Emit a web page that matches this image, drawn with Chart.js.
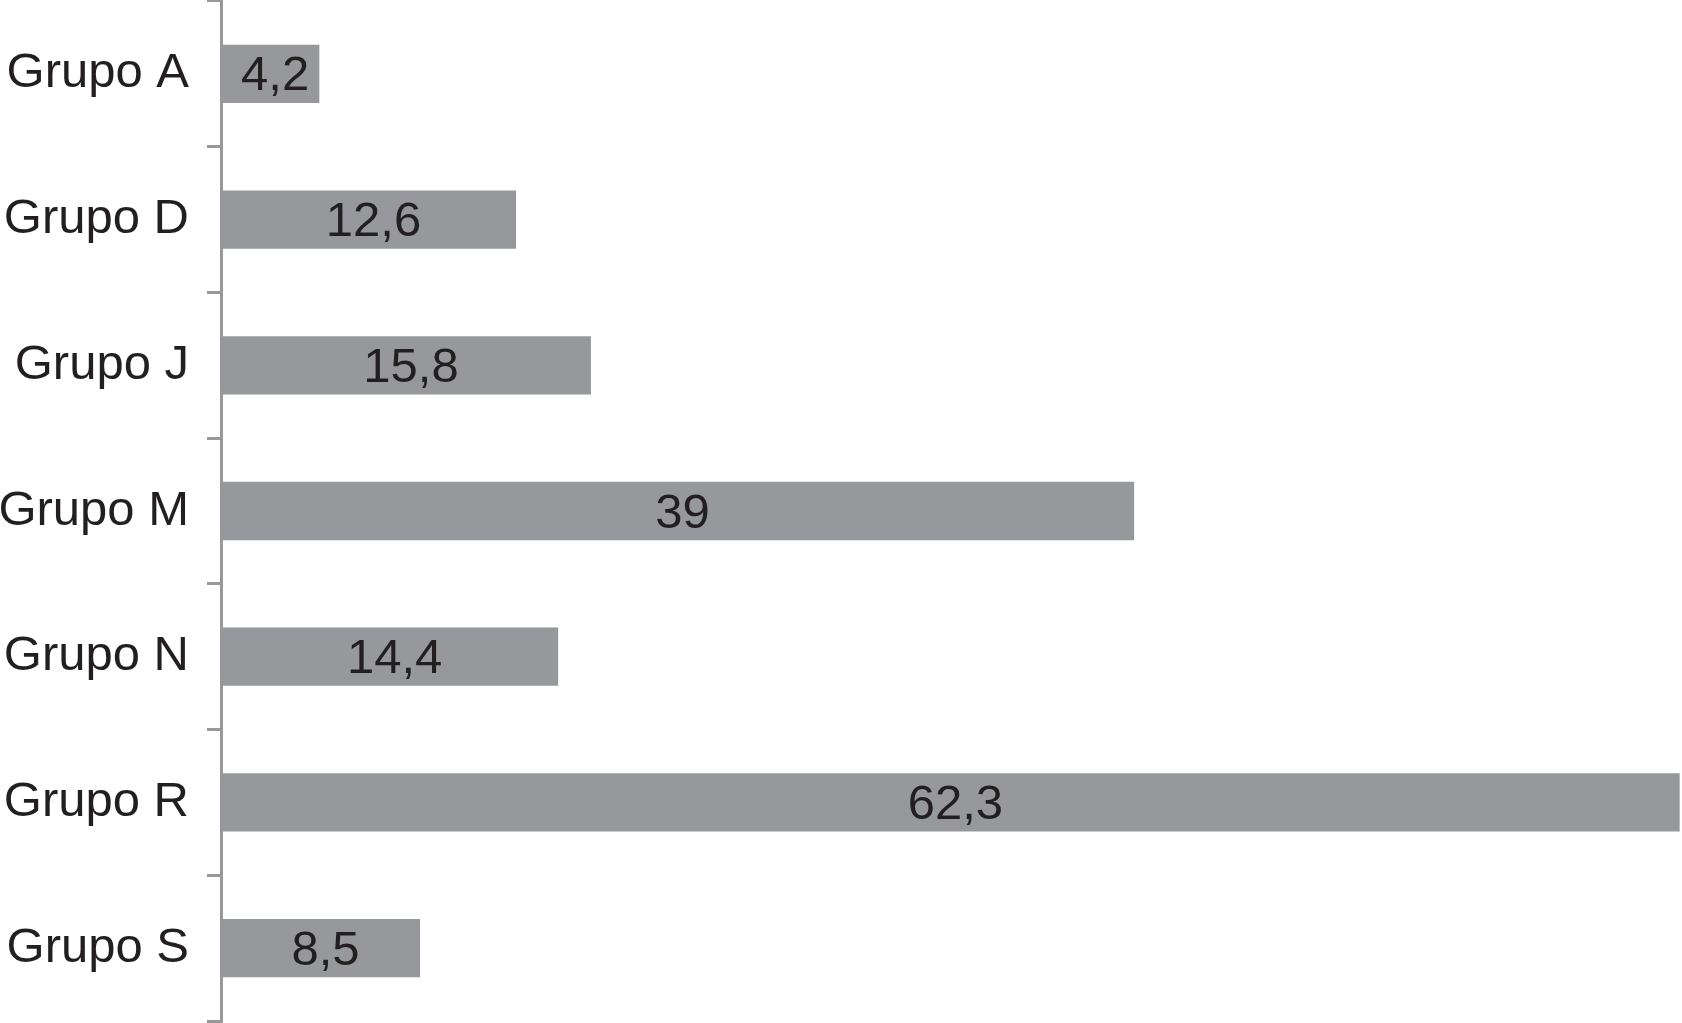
<!DOCTYPE html>
<html>
<head>
<meta charset="utf-8">
<script src="https://cdn.jsdelivr.net/npm/chart.js@4/dist/chart.umd.min.js"></script>
<style>
html,body{margin:0;padding:0;background:#fff;}
#c{display:block;}
</style>
</head>
<body>
<canvas id="c" width="1682" height="1023"></canvas>
<script>
const categories = ["Grupo A","Grupo D","Grupo J","Grupo M","Grupo N","Grupo R","Grupo S"];
const values = [4.2, 12.6, 15.8, 39, 14.4, 62.3, 8.5];
const valueLabels = ["4,2","12,6","15,8","39","14,4","62,3","8,5"];

const barColor = "#97989b";
const axisColor = "#97989b";
const textColor = "#231f20";
const fontFamily = "'Liberation Sans', Arial, Helvetica, sans-serif";

const valueLabelPlugin = {
  id: "valueLabels",
  afterDatasetsDraw(chart) {
    const ctx = chart.ctx;
    const meta = chart.getDatasetMeta(0);
    ctx.save();
    ctx.font = "49px " + fontFamily;
    ctx.fillStyle = textColor;
    ctx.textAlign = "center";
    ctx.textBaseline = "middle";
    meta.data.forEach((bar, i) => {
      const cx = (bar.x + bar.base) / 2 + 5;
      ctx.fillText(valueLabels[i], cx, bar.y + 3);
    });
    ctx.restore();
  }
};

new Chart(document.getElementById("c"), {
  type: "bar",
  data: {
    labels: categories,
    datasets: [{
      data: values,
      backgroundColor: barColor,
      borderWidth: 0,
      categoryPercentage: 1.0,
      barPercentage: 0.4
    }]
  },
  options: {
    indexAxis: "y",
    responsive: false,
    animation: false,
    layout: { padding: { top: 1, bottom: 2, left: 0, right: 0 } },
    plugins: { legend: { display: false }, tooltip: { enabled: false } },
    scales: {
      x: {
        display: false,
        min: 0,
        max: 62.4
      },
      y: {
        offset: true,
        afterFit(scale) {
          scale.width = 221;
          scale.paddingTop = 0;
          scale.paddingBottom = 0;
        },
        border: { display: true, color: axisColor, width: 3 },
        grid: {
          offset: true,
          drawOnChartArea: false,
          drawTicks: true,
          tickLength: 14,
          color: axisColor,
          lineWidth: 3
        },
        ticks: {
          color: textColor,
          padding: 18,
          font: { family: fontFamily, size: 49 }
        }
      }
    }
  },
  plugins: [valueLabelPlugin]
});
</script>
</body>
</html>
